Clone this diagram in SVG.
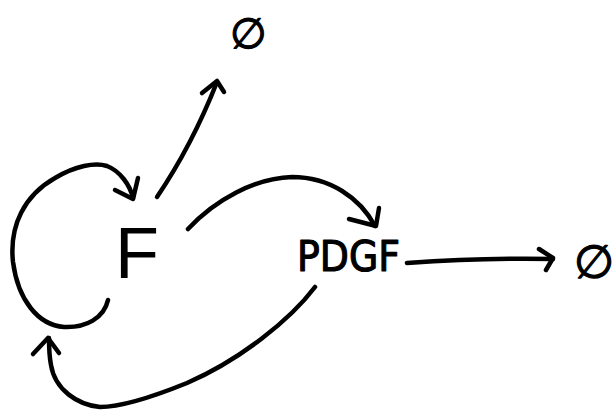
<svg xmlns="http://www.w3.org/2000/svg" width="614" height="412" viewBox="0 0 614 412">
  <style>
    .ink { fill: none; stroke: #000; stroke-width: 4.5; stroke-linecap: round; stroke-linejoin: round; }
    .label { fill: #000; stroke: #000; stroke-width: 1.2; stroke-linejoin: round; font-family: "DejaVu Sans", "Liberation Sans", sans-serif; }
    .big { font-family: "Liberation Sans", Arial, sans-serif; stroke-width: 0; }
  </style>
  <rect width="614" height="412" fill="#fff"/>

  <!-- nodes -->
  <g id="node-F">
    <text class="label big" x="115" y="278" font-size="72">F</text>
  </g>
  <g id="node-PDGF">
    <text class="label" x="297" y="271" font-size="42" textLength="103" lengthAdjust="spacingAndGlyphs">PDGF</text>
  </g>
  <g id="node-empty-top">
    <text class="label" x="230" y="48" font-size="42">∅</text>
  </g>
  <g id="node-empty-right">
    <text class="label" x="574" y="278" font-size="46">∅</text>
  </g>

  <!-- connectors -->
  <g id="connectors">
    <!-- F self loop -->
    <path class="ink" d="M108,300 C104,318 86,328 64,327 C38,325 18,300 13,262 C9,225 25,195 55,178 C75,166 95,162 107,166 C120,171 130,185 133,198"/>
    <path class="ink" d="M115,190 L133,199 L138,178"/>
    <!-- F to top empty set -->
    <path class="ink" d="M157,197 C180,163 200,125 217,82"/>
    <path class="ink" d="M202,93 L217,81 L224,92"/>
    <!-- F to PDGF -->
    <path class="ink" d="M188,229 C215,200 255,178 292,177 C330,177 360,198 375,226"/>
    <path class="ink" d="M349,219 L376,226 L379,208"/>
    <!-- PDGF to right empty set -->
    <path class="ink" d="M407,263 C450,260 500,258 553,259"/>
    <path class="ink" d="M539,249 L553,258 L546,270"/>
    <!-- PDGF back to F -->
    <path class="ink" d="M315,287 C290,320 240,360 187,383 C150,398 120,407 100,407 C78,405 55,390 51,365 C49,355 49,345 49,338"/>
    <path class="ink" d="M33,354 L48,338 L59,353"/>
  </g>
</svg>
